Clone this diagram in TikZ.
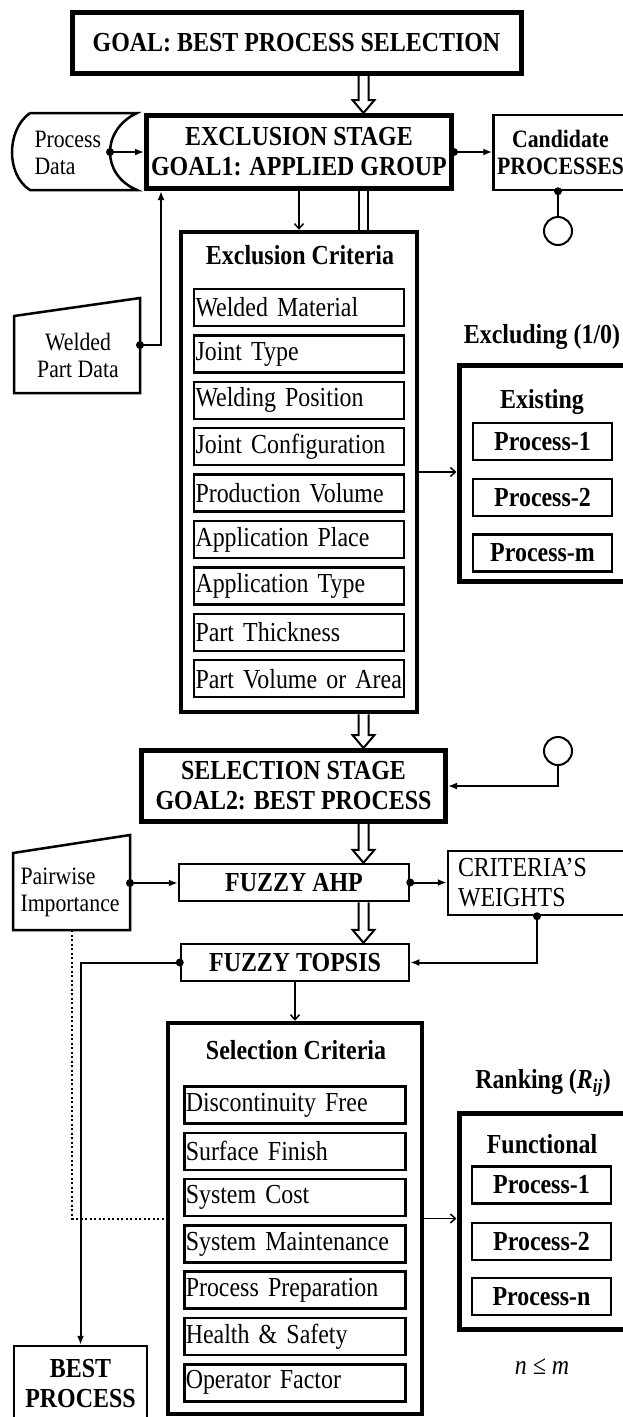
\documentclass[tikz,border=0pt]{standalone}
\usepackage{fontspec}
\setmainfont{Liberation Serif}[FakeStretch=0.87]
\usetikzlibrary{arrows.meta}

\newcommand\fatarrow[2]{%
  \path (#1 -| ax) coordinate (fa) (#2 -| ax) coordinate (fb);
  \draw[fatline] ([xshift=-5pt]fa) -- ([xshift=-5pt,yshift=13pt]fb) -- ([xshift=-11pt,yshift=13pt]fb)
    -- (fb) -- ([xshift=11pt,yshift=13pt]fb) -- ([xshift=5pt,yshift=13pt]fb) -- ([xshift=5pt]fa);}

\tikzset{
  txt/.style={font=\fontsize{27.5}{30}\selectfont},
  btxt/.style={font=\fontsize{27.5}{30}\selectfont\bfseries},
  note/.style={font=\fontsize{25}{27}\selectfont},
  bnote/.style={font=\fontsize{25}{27}\selectfont\bfseries},
  thinbox/.style={draw, line width=2.5pt, inner sep=0pt, align=center},
  thickbox/.style={draw, line width=5pt, inner sep=0pt, align=center},
  item/.style={thinbox, txt, align=left, inner xsep=1.5pt, text width=#1, minimum height=37pt},
  procbox/.style={thinbox, btxt, minimum width=139pt, minimum height=37pt},
  joint/.style={circle, fill, inner sep=0pt, minimum size=8pt},
  endcirc/.style={circle, draw, line width=2pt, minimum size=28pt, inner sep=0pt},
  conn/.style={line width=2pt, -{Latex[length=9pt,width=7pt]}},
  link/.style={line width=1.5pt, -{Straight Barb[length=5pt,width=9pt]}},
  plain/.style={line width=2pt},
  thinline/.style={line width=2.5pt},
  fatline/.style={line width=2pt, fill=white},
  dbl/.style={double, double distance=7pt, line width=2pt},
  dotline/.style={line width=2pt, dash pattern=on 2pt off 2.5pt}
}

\begin{document}
\begin{tikzpicture}[x=1pt, y=-1pt]
\useasboundingbox (0,0) rectangle (623,1417);
\clip (0,0) rectangle (623,1417);
\coordinate (ax) at (363.5,0);

\node[thickbox, btxt, minimum width=449pt, minimum height=61pt] (goal) at (296.5,43) {GOAL: BEST PROCESS SELECTION};
\node[thickbox, btxt, minimum width=305pt, minimum height=73pt] (stage1) at (299,152) {EXCLUSION STAGE\\GOAL1: APPLIED GROUP};
\node[note, align=left, anchor=west] (pdata) at (31,153) {Process\\Data};
\draw[thinline] (30,113) -- (137,113) .. controls (101,130) and (101,175) .. (137,190) -- (30,190) .. controls (6,175) and (6,130) .. (30,113);
\node[thinbox, bnote, text width=128pt, inner xsep=3pt, minimum height=75pt, anchor=west] (cand) at (492.25,152.5) {Candidate\\PROCESSES};
\node[endcirc] (ccirc) at (558,231) {};

\node[note, align=center] (wpart) at (78,355) {Welded\\Part Data};
\draw[thinline] (14,316) -- (140,298) -- (140,393) -- (14,393) -- cycle;

\node[thickbox, line width=4.5pt, minimum width=236pt, minimum height=480pt] (excrit) at (299,472) {};
\node[btxt] (extitle) at (300,255) {Exclusion Criteria};
\foreach \t [count=\i] in {Welded Material, Joint Type, Welding Position, Joint Configuration, Production Volume, Application Place, Application Type, Part Thickness, Part Volume or Area}
  \node[item=207pt] (ex\i) at (299,{261.1+46.4*\i}) {\t};

\node[btxt] (exlabel) at (542,337) {Excluding (1/0)};
\node[thickbox, minimum width=166pt, minimum height=216pt] (exist) at (542,473) {};
\node[btxt] (existtitle) at (542,402) {Existing};
\foreach \p/\y in {1/441.5, 2/497.5, m/553}
  \node[procbox] (ep\p) at (542.5,\y) {Process-\p};

\node[thickbox, btxt, minimum width=304pt, minimum height=71pt] (stage2) at (293.5,786) {SELECTION STAGE\\GOAL2: BEST PROCESS};
\node[endcirc] (scirc) at (558,751) {};

\node[thinbox, btxt, minimum width=230pt, minimum height=37pt] (ahp) at (294,882.5) {FUZZY AHP};
\node[note, align=left, anchor=west] (pwise) at (17,892) {Pairwise\\Importance};
\draw[thinline] (13,853) -- (130,835) -- (130,930) -- (13,930) -- cycle;
\node[thinbox, txt, align=left, inner xsep=10pt, text width=158pt, minimum height=64pt] (wts) at (537,883) {CRITERIA’S\\WEIGHTS};
\node[thinbox, btxt, minimum width=228pt, minimum height=37pt] (topsis) at (295,962.5) {FUZZY TOPSIS};

\node[thickbox, line width=4.5pt, minimum width=254pt, minimum height=391pt] (selcrit) at (295,1218.5) {};
\node[btxt] (seltitle) at (296,1050) {Selection Criteria};
\foreach \t [count=\i] in {Discontinuity Free, Surface Finish, System Cost, System Maintenance, Process Preparation, Health \& Safety, Operator Factor}
  \node[item=218pt] (sc\i) at (294.75,{1058.7+46.3*\i}) {\t};

\node[btxt] (rank) at (543,1083) {Ranking (\textit{R}\textsubscript{\textit{ij}})};
\node[thickbox, minimum width=166pt, minimum height=216pt] (func) at (542,1221) {};
\node[btxt] (functitle) at (542,1144) {Functional};
\foreach \p/\y in {1/1185, 2/1241.5, n/1296.5}
  \node[procbox] (fp\p) at (541.5,\y) {Process-\p};
\node[txt] (nm) at (542,1367) {\textit{n ≤ m}};

\node[thinbox, btxt, minimum width=133pt, minimum height=76pt] (best) at (80.5,1384) {BEST\\PROCESS};

\node[joint] (j1) at (110,152) {};
\draw[conn] (j1.center) -- (j1.center -| stage1.west);
\node[joint] (j2) at (stage1.east) {};
\draw[conn] (j2.center) -- (j2.center -| cand.west);
\node[joint] (j3) at (ccirc.north |- cand.south) {};
\draw[plain] (j3.center) -- (ccirc.north);
\fatarrow{goal.south}{stage1.north}
\draw[link] (stage1.south) -- (stage1.south |- excrit.north);
\draw[dbl] (stage1.south -| ax) -- (excrit.north -| ax);
\node[joint] (j4) at (140,345) {};
\coordinate (wpbend) at (161,345);
\draw[conn] (j4.center) -- (wpbend) -- (wpbend |- stage1.south);
\draw[link] (excrit.east) -- (excrit.east -| exist.west);
\fatarrow{excrit.south}{stage2.north}
\draw[conn] (scirc.south) |- (stage2.east);
\fatarrow{stage2.south}{ahp.north}
\node[joint] (j5) at (130,883) {};
\draw[conn] (j5.center) -- (j5.center -| ahp.west);
\node[joint] (j6) at (ahp.east) {};
\draw[conn] (j6.center) -- (j6.center -| wts.west);
\fatarrow{ahp.south}{topsis.north}
\node[joint] (j7) at (wts.south) {};
\draw[conn] (j7.center) |- (topsis.east);
\node[joint] (j8) at (topsis.west) {};
\draw[conn] (j8.center) -| (best.north);
\draw[link] (topsis.south) -- (topsis.south |- selcrit.north);
\coordinate (pwb) at (72,930);
\draw[dotline] (pwb) |- (selcrit.west);
\draw[link] (selcrit.east) -- (selcrit.east -| func.west);
\end{tikzpicture}
\end{document}
